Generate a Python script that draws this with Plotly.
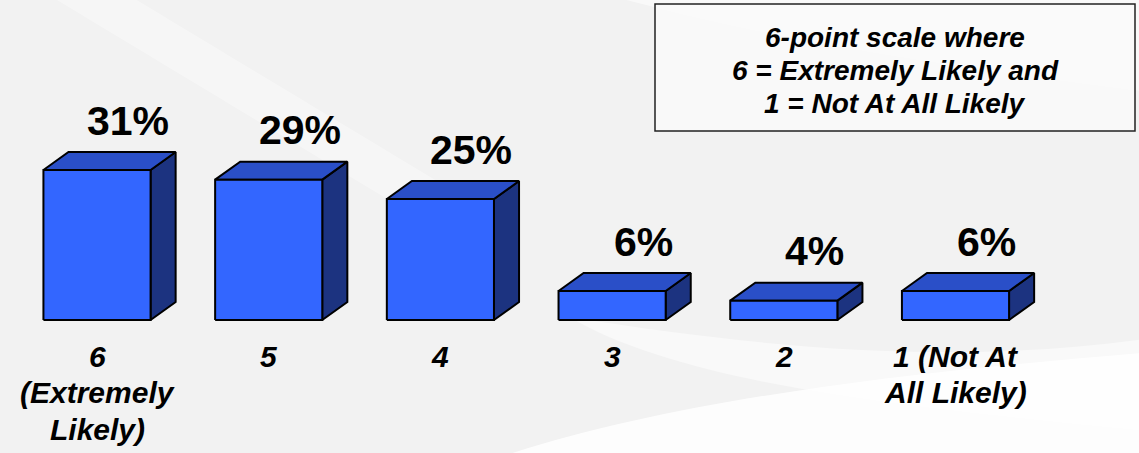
import plotly.graph_objects as go

# ---- data ----
category_lines = [["6", "(Extremely", "Likely)"], ["5"], ["4"], ["3"], ["2"],
                  ["1 (Not At", "All Likely)"]]
values = [31, 29, 25, 6, 4, 6]
value_labels = ["31%", "29%", "25%", "6%", "4%", "6%"]
note_lines = ["6-point scale where", "6 = Extremely Likely and", "1 = Not At All Likely"]

# ---- style ----
FRONT = "#3366FF"
TOP = "#2A4FC8"
SIDE = "#1C3380"
EDGE = "#000000"
W, H = 1139, 453
PX_X = 171.7      # pixels per category
PX_Y = 4.84       # pixels per percent
BASE = 320        # baseline pixel row
HALF = 0.312      # half width of front face (x units)
DX = 0.146        # depth offset in x units
DY = 3.72         # depth offset in y units
FONT = "Liberation Sans, Arial, sans-serif"

fig = go.Figure()

for i, v in enumerate(values):
    x0, x1 = i - HALF, i + HALF
    fig.add_trace(go.Scatter(
        x=[x1, x1 + DX, x1 + DX, x1, x1], y=[0, DY, v + DY, v, 0],
        fill="toself", fillcolor=SIDE, mode="lines",
        line=dict(color=EDGE, width=2), hoverinfo="skip", showlegend=False))
    fig.add_trace(go.Scatter(
        x=[x0, x0 + DX, x1 + DX, x1, x0], y=[v, v + DY, v + DY, v, v],
        fill="toself", fillcolor=TOP, mode="lines",
        line=dict(color=EDGE, width=2), hoverinfo="skip", showlegend=False))
    fig.add_trace(go.Scatter(
        x=[x0, x1, x1, x0, x0], y=[0, 0, v, v, 0],
        fill="toself", fillcolor=FRONT, mode="lines",
        line=dict(color=EDGE, width=2), hoverinfo="skip", showlegend=False))
    fig.add_annotation(x=i + 0.18, y=v + 10.2, text=f"<b>{value_labels[i]}</b>",
                       showarrow=False, xanchor="center", yanchor="middle",
                       font=dict(family=FONT, size=41, color="#000000"))
    for k, line in enumerate(category_lines[i]):
        py = 356 + 36.5 * k
        fig.add_annotation(x=i, y=(BASE - py) / PX_Y, text=f"<b><i>{line}</i></b>",
                           showarrow=False, xanchor="center", yanchor="middle",
                           font=dict(family=FONT, size=30, color="#000000"))

# note box
fig.add_shape(type="rect", xref="paper", yref="paper",
              x0=655 / W, x1=1135 / W, y0=1 - 131 / H, y1=1 - 4 / H,
              fillcolor="rgba(250,250,250,0.85)", line=dict(color="#222222", width=1.5),
              layer="above")
for k, line in enumerate(note_lines):
    py = 38 + 32.5 * k
    fig.add_annotation(xref="paper", yref="paper", x=895 / W, y=1 - py / H,
                       text=f"<b><i>{line}</i></b>",
                       showarrow=False, xanchor="center", yanchor="middle",
                       font=dict(family=FONT, size=28, color="#000000"))

# background decoration (soft white swooshes)
fig.add_shape(type="path", xref="paper", yref="paper", layer="below",
              path="M 0.45,0 C 0.6,0.12 0.8,0.18 1,0.22 L 1,0 Z",
              fillcolor="rgba(255,255,255,0.85)", line=dict(width=0))
fig.add_shape(type="path", xref="paper", yref="paper", layer="below",
              path="M 0.5,0.3 C 0.7,0.22 0.85,0.2 1,0.25 L 1,0.05 C 0.8,0.1 0.6,0.15 0.5,0.3 Z",
              fillcolor="rgba(255,255,255,0.5)", line=dict(width=0))
fig.add_shape(type="path", xref="paper", yref="paper", layer="below",
              path="M 0.55,1 C 0.7,0.9 0.85,0.85 1,0.8 L 1,1 Z",
              fillcolor="rgba(255,255,255,0.55)", line=dict(width=0))
fig.add_shape(type="path", xref="paper", yref="paper", layer="below",
              path="M 0.05,1 L 0.12,1 L 0.45,0.5 L 0.38,0.5 Z",
              fillcolor="rgba(255,255,255,0.35)", line=dict(width=0))

fig.update_layout(
    width=W, height=H,
    margin=dict(l=0, r=0, t=0, b=0),
    paper_bgcolor="#f1f1f1", plot_bgcolor="#f2f2f2",
    xaxis=dict(range=[-97 / PX_X, (W - 97) / PX_X], visible=False, fixedrange=True),
    yaxis=dict(range=[-(H - BASE) / PX_Y, BASE / PX_Y], visible=False, fixedrange=True),
    showlegend=False,
)

fig.write_html("out.html", config={"displayModeBar": False})
